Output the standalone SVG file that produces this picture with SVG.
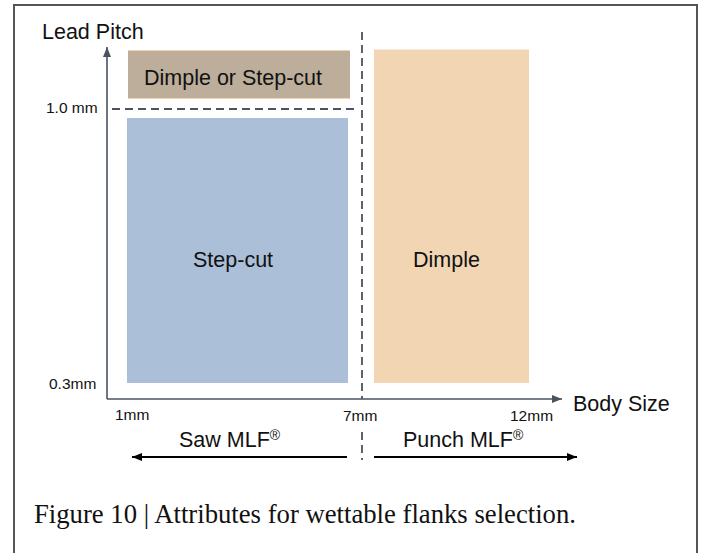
<svg xmlns="http://www.w3.org/2000/svg" width="704" height="553" viewBox="0 0 704 553">
<style>
.sans{font-family:"Liberation Sans",Arial,sans-serif;fill:#111}
.big{font-size:21.5px}
.small{font-size:15.5px}
.cap{font-family:"Liberation Serif","Times New Roman",serif;font-size:26.7px;fill:#111}
.axis{stroke:#4b5361;stroke-width:1.6;fill:none}
.dash{stroke:#4b5361;stroke-width:1.8;stroke-dasharray:8 5;fill:none}
.blk{stroke:#000;stroke-width:2;fill:none}
</style>
<defs>
<marker id="ah" markerUnits="userSpaceOnUse" markerWidth="12" markerHeight="10" refX="10" refY="4" orient="auto">
<path d="M0,0 L10,4 L0,8 Z" fill="#4b5361"/>
</marker>
<marker id="bh" markerUnits="userSpaceOnUse" markerWidth="12" markerHeight="10" refX="10" refY="4" orient="auto">
<path d="M0,0 L10,4 L0,8 Z" fill="#000"/>
</marker>
</defs>
<rect width="704" height="553" fill="#fff"/>
<path d="M14,554 V5 H697 V554" fill="none" stroke="#555" stroke-width="2"/>
<g id="region-dimple-or-stepcut">
<rect x="128" y="50" width="222" height="49" fill="#bcae9b"/>
<line x1="128" y1="50.5" x2="350" y2="50.5" stroke="#f2d3ae" stroke-width="1"/>
<line x1="128" y1="98.5" x2="350" y2="98.5" stroke="#f2d3ae" stroke-width="1"/>
<text class="sans big" x="144" y="85">Dimple or Step-cut</text>
</g>
<g id="region-stepcut">
<rect x="127" y="118" width="221" height="265" fill="#abbfd8"/>
<text class="sans big" x="193" y="267">Step-cut</text>
</g>
<g id="region-dimple">
<rect x="374" y="49.5" width="155" height="333.5" fill="#f2d6b3"/>
<text class="sans big" x="413" y="267">Dimple</text>
</g>
<g id="connectors">
<line class="axis" x1="107" y1="399" x2="107" y2="47" marker-end="url(#ah)"/>
<line class="axis" x1="107" y1="399" x2="562" y2="399" marker-end="url(#ah)"/>
<line class="dash" x1="112" y1="109" x2="358" y2="109"/>
<line class="dash" x1="362" y1="32" x2="362" y2="399"/>
<line class="dash" x1="362" y1="432" x2="362" y2="460"/>
<line class="blk" x1="347" y1="457" x2="132" y2="457" marker-end="url(#bh)"/>
<line class="blk" x1="374" y1="457" x2="577" y2="457" marker-end="url(#bh)"/>
</g>
<g id="labels">
<text class="sans big" x="42" y="39">Lead Pitch</text>
<text class="sans big" x="573" y="411">Body Size</text>
<text class="sans small" x="46" y="113">1.0 mm</text>
<text class="sans small" x="49" y="389">0.3mm</text>
<text class="sans small" x="115" y="420">1mm</text>
<text class="sans small" x="343" y="421">7mm</text>
<text class="sans small" x="510" y="421">12mm</text>
<text class="sans big" x="179" y="447">Saw MLF<tspan font-size="14" dy="-7">®</tspan></text>
<text class="sans big" x="403" y="447">Punch MLF<tspan font-size="14" dy="-7">®</tspan></text>
<text class="cap" x="34" y="523">Figure 10 | Attributes for wettable flanks selection.</text>
</g>
</svg>
